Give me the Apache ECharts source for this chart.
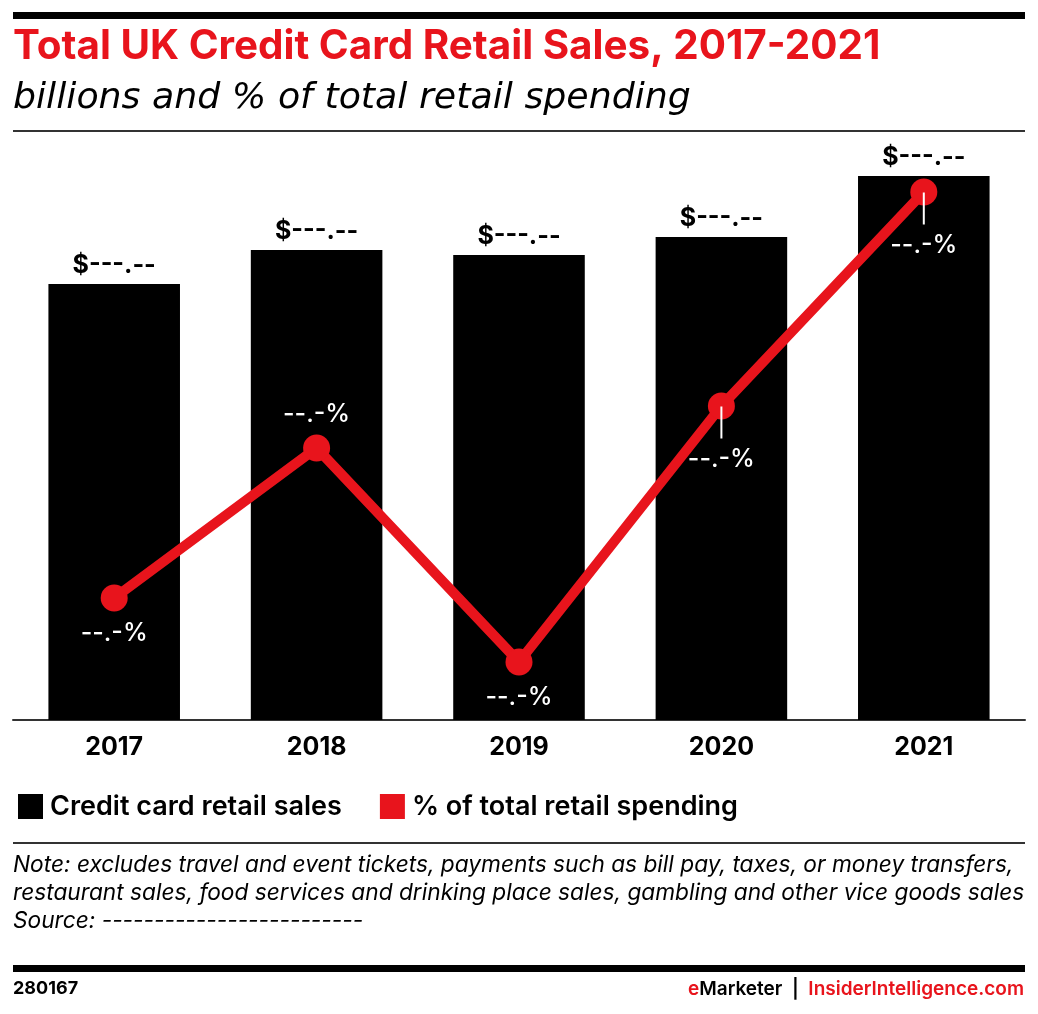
<!DOCTYPE html>
<html>
<head>
<meta charset="utf-8">
<script src="https://cdn.jsdelivr.net/npm/echarts@6/dist/echarts.min.js"></script>
<style>
html,body{margin:0;padding:0;background:#fff;}
#chart{width:1038px;height:1014px;}
</style>
</head>
<body>
<div id="chart"></div>
<script>
// ---- data ----
const categories = ['2017', '2018', '2019', '2020', '2021'];
const salesValues = [436, 470, 465, 483, 544];          // credit card retail sales (relative scale)
const shareValues = [12.2, 27.2, 5.8, 31.4, 52.8];      // % of total retail spending (relative scale)
const salesLabels = ['$---.--', '$---.--', '$---.--', '$---.--', '$---.--'];
const shareLabels = ['--.-%', '--.-%', '--.-%', '--.-%', '--.-%'];
const sharePositions = ['below', 'above', 'below', 'leader', 'leader'];
const seriesNames = ['Credit card retail sales', '% of total retail spending'];

const titleText = 'Total UK Credit Card Retail Sales, 2017-2021';
const subtitleText = 'billions and % of total retail spending';
const noteLines = [
  'Note: excludes travel and event tickets, payments such as bill pay, taxes, or money transfers,',
  'restaurant sales, food services and drinking place sales, gambling and other vice goods sales',
  'Source: -------------------------'
];

const RED = '#e8141c';
const FONT = 'Inter, "Noto Sans", sans-serif';
const SUBFONT = '"DejaVu Sans", Inter, sans-serif';

// fit a font size so that text spans a target width (layout helper)
const ctx = document.createElement('canvas').getContext('2d');
function fitSize(text, prefix, family, target) {
  ctx.font = prefix + ' 100px ' + family;
  const w = ctx.measureText(text).width;
  return Math.round(100 * target / w * 10) / 10;
}
const titleSize = fitSize(titleText, '700', FONT, 867);
const subSize = fitSize(subtitleText, 'italic 400', SUBFONT, 677);
const noteSize = fitSize(noteLines[0], 'italic 400', FONT, 1000);

const chart = echarts.init(document.getElementById('chart'), null, {renderer: 'canvas'});

const lineData = shareValues.map((v, i) => {
  const pos = sharePositions[i];
  let label;
  if (pos === 'above') {
    label = {position: 'top', distance: 8, formatter: shareLabels[i]};
  } else if (pos === 'below') {
    label = {position: 'bottom', distance: 9, formatter: shareLabels[i]};
  } else {
    label = {
      position: 'bottom', distance: 0, offset: [0, -13],
      formatter: '{ln| }\n{t|' + shareLabels[i] + '}',
      rich: {
        ln: {width: 2, height: 32, backgroundColor: '#fff', lineHeight: 32},
        t: {fontSize: 25, fontWeight: 500, color: '#fff', fontFamily: FONT, lineHeight: 42}
      }
    };
  }
  return {value: v, label: label};
});

const option = {
  backgroundColor: '#fff',
  animation: false,
  textStyle: {fontFamily: FONT},
  grid: {left: 13, right: 13, top: 120, bottom: 294, containLabel: false},
  legend: {
    data: seriesNames,
    left: 13, top: 788,
    icon: 'rect', itemWidth: 25, itemHeight: 25, itemGap: 38,
    textStyle: {fontSize: 27, fontWeight: 600, color: '#000', fontFamily: FONT, padding: [0, 0, 0, 2]}
  },
  xAxis: {
    type: 'category', data: categories,
    axisLine: {lineStyle: {color: '#333', width: 2}},
    axisTick: {show: false},
    axisLabel: {fontSize: 25, fontWeight: 700, color: '#000', margin: 15, fontFamily: FONT}
  },
  yAxis: [
    {type: 'value', min: 0, max: 600, show: false, splitLine: {show: false}},
    {type: 'value', min: 0, max: 60, show: false, splitLine: {show: false}}
  ],
  series: [
    {
      name: seriesNames[0], type: 'bar', data: salesValues, barWidth: '65%',
      itemStyle: {color: '#000'},
      label: {show: true, position: 'top', distance: 6,
        formatter: p => salesLabels[p.dataIndex],
        fontSize: 25, fontWeight: 700, color: '#000', fontFamily: FONT}
    },
    {
      name: seriesNames[1], type: 'line', yAxisIndex: 1, data: lineData,
      symbol: 'circle', symbolSize: 27, z: 5,
      lineStyle: {color: RED, width: 10},
      itemStyle: {color: RED},
      label: {show: true, fontSize: 25, fontWeight: 500, color: '#fff', fontFamily: FONT}
    }
  ],
  graphic: [
    {type: 'rect', left: 13, top: 12, shape: {width: 1012, height: 7}, style: {fill: '#000'}},
    {type: 'text', left: 13, top: 27, style: {text: titleText, font: '700 ' + titleSize + 'px ' + FONT, fill: RED}},
    {type: 'text', left: 13, top: 81, style: {text: subtitleText, font: 'italic 400 ' + subSize + 'px ' + SUBFONT, fill: '#000'}},
    {type: 'rect', left: 13, top: 130, shape: {width: 1012, height: 2}, style: {fill: '#333'}},
    {type: 'rect', left: 13, top: 842, shape: {width: 1012, height: 2}, style: {fill: '#333'}},
    {type: 'text', left: 13, top: 851, style: {
      text: noteLines.join('\n'),
      font: 'italic 400 ' + noteSize + 'px ' + FONT, lineHeight: 28, fill: '#000'}},
    {type: 'rect', left: 13, top: 965, shape: {width: 1012, height: 7}, style: {fill: '#000'}},
    {type: 'text', left: 13, top: 980, style: {text: '280167', font: '700 18px ' + FONT, fill: '#000'}},
    {type: 'text', right: 14, top: 980, style: {
      text: '{r|e}{k|Marketer  |  }{r|InsiderIntelligence.com}',
      rich: {
        r: {fill: RED, font: '600 19px ' + FONT},
        k: {fill: '#000', font: '600 19px ' + FONT}
      }}}
  ]
};
chart.setOption(option);
</script>
</body>
</html>
